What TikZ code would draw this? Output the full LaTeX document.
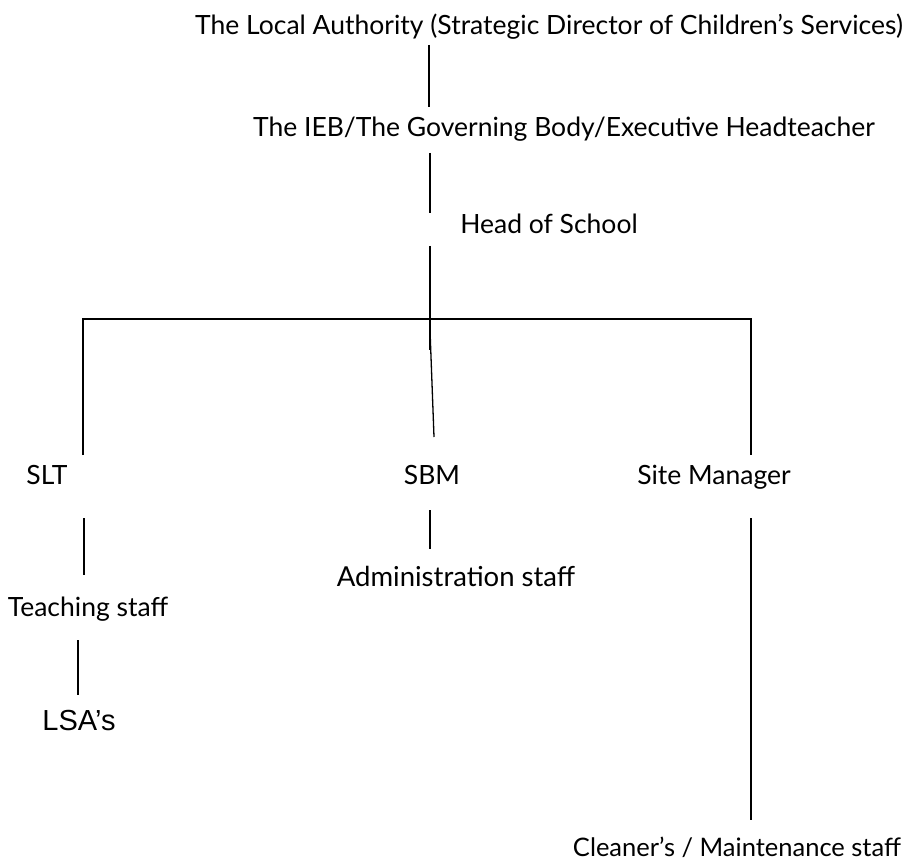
\documentclass[tikz,border=0pt]{standalone}
\usepackage{fontspec}
\setmainfont{Lato}
\newfontfamily\arialfont{Liberation Sans}
\begin{document}
\begin{tikzpicture}[x=1pt,y=-1pt,
  lbl/.style={anchor=base,inner sep=0pt,font=\fontsize{26.5}{30}\selectfont},
  conn/.style={line width=1.3pt,black}]
\useasboundingbox (0,0) rectangle (908,861);
% texts
\node[lbl] (la) at (549,35) {The Local Authority (Strategic Director of Children’s Services)};
\node[lbl] (ieb) at (564,137) {The IEB/The Governing Body/Executive Headteacher};
\node[lbl] (hos) at (549,234) {Head of School};
\node[lbl] (slt) at (47,484) {SLT};
\node[lbl] (sbm) at (432,484) {SBM};
\node[lbl] (sm) at (714,484) {Site Manager};
\node[lbl] (ts) at (88,616) {Teaching staff};
\node[lbl,font=\arialfont\fontsize{29}{33}\selectfont] (lsa) at (79,730) {LSA’s};
\node[lbl,font=\fontsize{27.5}{31}\selectfont] (adm) at (456,586) {Administration staff};
\node[lbl,font=\fontsize{25.5}{29}\selectfont] (cl) at (737,856) {Cleaner’s / Maintenance staff};
% junction coordinates
\coordinate (c1a) at (429,45);  \coordinate (c1b) at (429,107);
\coordinate (c2a) at (430,153); \coordinate (c2b) at (430,213);
\coordinate (c3a) at (430,246); \coordinate (c3b) at (430,350);
\coordinate (hl) at (83,319);   \coordinate (hr) at (751,319);
\coordinate (vl) at (83,455);   \coordinate (vr) at (751,455);
\coordinate (sa) at (430,330);  \coordinate (sb) at (434,437);
\coordinate (t1a) at (84,518);  \coordinate (t1b) at (84,575);
\coordinate (t2a) at (78,640);  \coordinate (t2b) at (78,695);
\coordinate (s1a) at (430,510); \coordinate (s1b) at (430,549);
\coordinate (m1a) at (751,518); \coordinate (m1b) at (751,820);
% connectors
\draw[conn] (c1a) -- (c1b);
\draw[conn] (c2a) -- (c2b);
\draw[conn] (c3a) -- (c3b);
\draw[conn] (vl) -- (hl) -- (hr) -- (vr);
\draw[conn] (sa) -- (sb);
\draw[conn] (t1a) -- (t1b);
\draw[conn] (t2a) -- (t2b);
\draw[conn] (s1a) -- (s1b);
\draw[conn] (m1a) -- (m1b);
\end{tikzpicture}
\end{document}
